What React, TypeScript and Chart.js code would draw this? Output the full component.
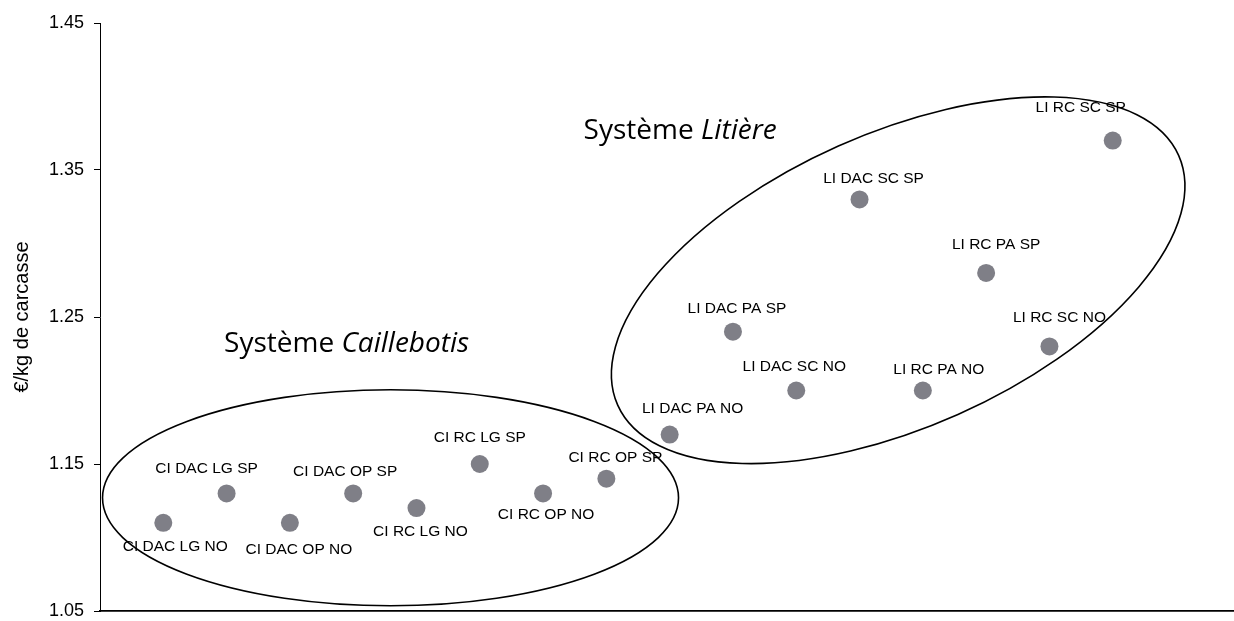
import React, { useEffect, useRef } from 'react';
import { Chart, registerables } from 'chart.js';

Chart.register(...registerables);

// ---- data ----
const pointLabels = [
  'CI DAC LG NO', 'CI DAC LG SP', 'CI DAC OP NO', 'CI DAC OP SP',
  'CI RC LG NO', 'CI RC LG SP', 'CI RC OP NO', 'CI RC OP SP',
  'LI DAC PA NO', 'LI DAC PA SP', 'LI DAC SC NO', 'LI DAC SC SP',
  'LI RC PA NO', 'LI RC PA SP', 'LI RC SC NO', 'LI RC SC SP',
];
const xPositions = [1, 2, 3, 4, 5, 6, 7, 8, 9, 10, 11, 12, 13, 14, 15, 16];
const costValues = [
  1.11, 1.13, 1.11, 1.13, 1.12, 1.15, 1.13, 1.14,
  1.17, 1.24, 1.2, 1.33, 1.2, 1.28, 1.23, 1.37,
];
const yTickValues = [1.05, 1.15, 1.25, 1.35, 1.45];
const yAxisTitle = '€/kg de carcasse';

// ---- annotation layout (label offsets in px relative to the point) ----
const labelOffsets: [number, number][] = [
  [12, 24], [-20, -25], [9, 27], [-8, -22],
  [4, 24], [0, -26], [3, 21], [9, -21],
  [23, -26], [4, -23], [-2, -24], [14, -21],
  [16, -21], [10, -28], [10, -29], [-32, -33],
];

const groupEllipses = [
  { cx: 4.59, cy: 1.127, rx: 288, ry: 108, angle: 0 },
  { cx: 12.61, cy: 1.275, rx: 307, ry: 147, angle: -24 },
];

const groupTitles = [
  { plain: 'Système ', italic: 'Caillebotis', x: 1.96, y: 1.226 },
  { plain: 'Système ', italic: 'Litière', x: 7.64, y: 1.371 },
];

const annotationPlugin = {
  id: 'annotations',
  beforeDatasetsDraw(chart: any) {
    const ctx = chart.ctx;
    const xs = chart.scales.x;
    const ys = chart.scales.y;
    ctx.save();
    ctx.strokeStyle = '#000';
    ctx.lineWidth = 1.6;
    groupEllipses.forEach((e) => {
      ctx.beginPath();
      ctx.ellipse(
        xs.getPixelForValue(e.cx),
        ys.getPixelForValue(e.cy),
        e.rx,
        e.ry,
        (e.angle * Math.PI) / 180,
        0,
        Math.PI * 2
      );
      ctx.stroke();
    });
    ctx.restore();
  },
  afterDatasetsDraw(chart: any) {
    const ctx = chart.ctx;
    const xs = chart.scales.x;
    const ys = chart.scales.y;
    const meta = chart.getDatasetMeta(0);
    ctx.save();
    ctx.fillStyle = '#000';
    ctx.font = '15.5px "Liberation Sans", Arial, sans-serif';
    ctx.textAlign = 'center';
    ctx.textBaseline = 'middle';
    meta.data.forEach((pt: any, i: number) => {
      const [dx, dy] = labelOffsets[i];
      ctx.fillText(pointLabels[i], pt.x + dx, pt.y + dy);
    });
    ctx.textAlign = 'left';
    ctx.textBaseline = 'alphabetic';
    groupTitles.forEach((t) => {
      const px = xs.getPixelForValue(t.x);
      const py = ys.getPixelForValue(t.y);
      ctx.font = '28px "Open Sans", sans-serif';
      ctx.fillText(t.plain, px, py);
      const w = ctx.measureText(t.plain).width;
      ctx.font = 'italic 28px "Open Sans", sans-serif';
      ctx.fillText(t.italic, px + w, py);
    });
    ctx.restore();
  },
};

export default function App() {
  const canvasRef = useRef<HTMLCanvasElement | null>(null);

  useEffect(() => {
    if (!canvasRef.current) return;
    const chart = new Chart(canvasRef.current, {
      type: 'scatter',
      data: {
        datasets: [
          {
            label: 'coût',
            data: xPositions.map((x, i) => ({ x, y: costValues[i] })),
            backgroundColor: 'rgb(127,127,135)',
            borderWidth: 0,
            pointRadius: 9,
            pointHoverRadius: 9,
            clip: false,
          },
        ],
      },
      options: {
        responsive: false,
        animation: false,
        events: [],
        layout: { autoPadding: false, padding: { top: 23, right: 1, bottom: 10, left: 0 } },
        plugins: {
          legend: { display: false },
          tooltip: { enabled: false },
          title: { display: false },
        },
        scales: {
          x: {
            type: 'linear',
            min: 0,
            max: 17.9,
            ticks: { display: false },
            grid: { display: false },
            border: { display: true, color: '#000', width: 1.8 },
            afterFit: (scale: any) => {
              scale.height = 0;
              scale.paddingLeft = 0;
              scale.paddingRight = 0;
            },
          },
          y: {
            type: 'linear',
            min: 1.05,
            max: 1.45,
            afterBuildTicks: (scale: any) => {
              scale.ticks = yTickValues.map((v) => ({ value: v }));
            },
            ticks: {
              color: '#000',
              padding: 10,
              font: { family: '"Liberation Sans", Arial, sans-serif', size: 18 },
              callback: (v: any) => Number(v).toFixed(2),
            },
            grid: {
              display: true,
              drawOnChartArea: false,
              drawTicks: true,
              tickLength: 6,
              color: '#000',
            },
            border: { display: true, color: '#000', width: 1 },
            title: {
              display: true,
              text: yAxisTitle,
              color: '#000',
              font: { family: '"Liberation Sans", Arial, sans-serif', size: 20 },
              padding: { top: 10, bottom: 0 },
            },
            afterFit: (scale: any) => {
              scale.width = 100;
              scale.paddingTop = 0;
              scale.paddingBottom = 0;
            },
          },
        },
      },
      plugins: [annotationPlugin],
    });
    return () => chart.destroy();
  }, []);

  return (
    <div style={{ position: 'fixed', left: 0, top: 0, width: 1234, height: 621, background: '#fff' }}>
      <canvas ref={canvasRef} width={1234} height={621} />
    </div>
  );
}
